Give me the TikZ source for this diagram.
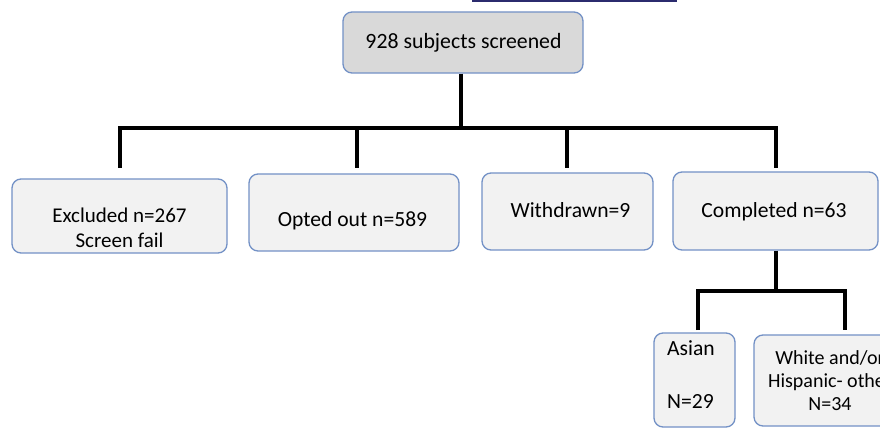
\documentclass[tikz,border=0pt]{standalone}
\usepackage{fontspec}
\setmainfont{Carlito}
\definecolor{boxline}{HTML}{7391C6}
\definecolor{boxfill}{HTML}{F2F2F2}
\definecolor{topfill}{HTML}{D9D9D9}
\definecolor{navy}{HTML}{2B2B6E}
\begin{document}
\begin{tikzpicture}[x=1pt,y=-1pt,
  box/.style={draw=boxline,line width=1.3pt,fill=boxfill,rounded corners=9pt,inner sep=0pt},
  txt/.style={font=\fontsize{21.6}{25}\selectfont,align=center,inner sep=0pt},
  conn/.style={line width=3.2pt,black}]
\useasboundingbox[clip] (0,0) rectangle (880,428);
\fill[white] (0,0) rectangle (880,428);
\fill[navy] (472,-2) rectangle (677,2.5);
% boxes
\node[box,fill=topfill,minimum width=240pt,minimum height=61pt] (top) at (463,42.5) {};
\node[txt,font=\fontsize{21.8}{25}\selectfont] at (463.5,43) {928 subjects screened};
\node[box,minimum width=215pt,minimum height=74pt] (excl) at (119.5,216) {};
\node[txt,font=\fontsize{21}{25}\selectfont] at (119.5,228) {Excluded n=267\\Screen fail};
\node[box,minimum width=210pt,minimum height=77pt] (opt) at (354,212.5) {};
\node[txt] at (352.5,221) {Opted out n=589};
\node[box,minimum width=171pt,minimum height=77pt] (wd) at (567.5,211.5) {};
\node[txt] at (570.5,210) {Withdrawn=9};
\node[box,minimum width=205pt,minimum height=78pt] (comp) at (775.5,211) {};
\node[txt] at (774,212) {Completed n=63};
\node[box,minimum width=81pt,minimum height=94pt] (asian) at (694.5,380) {};
\node[txt,anchor=north west,align=left] at (667,340) {Asian\\[28pt]N=29};
\node[box,minimum width=164pt,minimum height=91pt] (white) at (836,380.5) {};
\node[txt,font=\fontsize{20}{23}\selectfont] at (830,381) {White and/or\\Hispanic- other\\N=34};
% connectors
\coordinate (hl) at (120,128);
\coordinate (hr) at (776,128);
\draw[conn] (top.south -| 461,0) -- (461,128);
\draw[conn,line cap=rect] (hl) -- (hr);
\draw[conn] (hl) -- (120,168);
\draw[conn] (357,128) -- (357,168);
\draw[conn] (567,128) -- (567,168);
\draw[conn] (hr) -- (776,168);
\draw[conn] (comp.south -| 776,0) -- (776,291);
\draw[conn] (698,330) -- (698,291) -- (845,291) -- (845,330);
\end{tikzpicture}
\end{document}
